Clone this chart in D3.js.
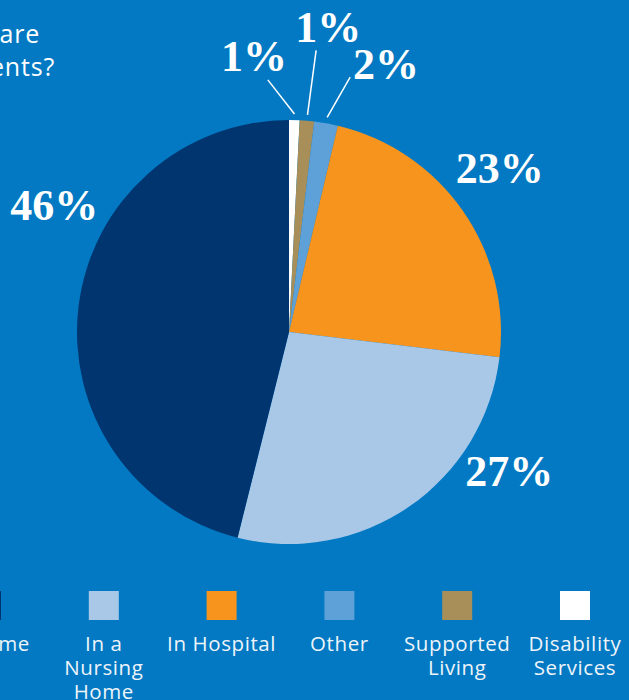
<!DOCTYPE html>
<html>
<head>
<meta charset="utf-8">
<script src="https://cdn.jsdelivr.net/npm/d3@7"></script>
<style>
  html, body { margin: 0; padding: 0; background: #0279c2; overflow: hidden; }
  svg { display: block; }
</style>
</head>
<body>
<svg id="chart" width="629" height="700"></svg>
<script>
// data, clockwise from 12 o'clock
const categories = ["Disability Services", "Supported Living", "Other", "In Hospital", "In a Nursing Home", "At Home"];
const values = [0.8, 1.1, 1.8, 23.2, 27.0, 46.1];
const valueLabels = ["1%", "1%", "2%", "23%", "27%", "46%"];
const colors = ["#ffffff", "#a88f5a", "#5ea0d8", "#f7941e", "#a9c8e8", "#00356f"];

// legend order, left to right
const legendOrder = ["At Home", "In a Nursing Home", "In Hospital", "Other", "Supported Living", "Disability Services"];
const legendLines = [["At Home"], ["In a", "Nursing", "Home"], ["In Hospital"], ["Other"], ["Supported", "Living"], ["Disability", "Services"]];

const titleLines = ["Where are", "the patients?"];

// label placement: polar (deg clockwise from top, radius) + leader end for small slices
const labelPos = [[-7.2, 279], [7.3, 308], [19.9, 285], [52.1, 267], [122.1, 260], [298.4, 267]];
const leaderEnd = [[-4.8, 253], [5.5, 283], [13.5, 262], null, null, null];

const width = 629, height = 700;
const cx = 289, cy = 332, radius = 212;

const svg = d3.select("#chart");

svg.append("rect")
    .attr("width", width)
    .attr("height", height)
    .attr("fill", "#0279c2");

// title (cut off at left edge like the source)
svg.append("g")
    .selectAll("text")
    .data(titleLines)
    .enter()
    .append("text")
    .attr("x", (d, i) => i === 0 ? 40 : 55)
    .attr("y", (d, i) => 43 + i * 33)
    .attr("text-anchor", "end")
    .attr("fill", "#ffffff")
    .style("font-family", "'Open Sans', sans-serif")
    .style("font-size", "25px")
    .style("letter-spacing", "0.8px")
    .text(d => d);

const pie = d3.pie().sort(null).value(d => d);
const arcs = pie(values);
const arc = d3.arc().innerRadius(0).outerRadius(radius);

const g = svg.append("g").attr("transform", `translate(${cx}, ${cy})`);

g.selectAll("path")
    .data(arcs)
    .enter()
    .append("path")
    .attr("d", arc)
    .attr("fill", (d, i) => colors[i]);

const polar = (deg, r) => {
    const a = deg * Math.PI / 180;
    return [Math.sin(a) * r, -Math.cos(a) * r];
};

// leader lines for thin slices
arcs.forEach((d, i) => {
    if (!leaderEnd[i]) return;
    const mid = (d.startAngle + d.endAngle) / 2 * 180 / Math.PI;
    const p0 = polar(mid, radius + 6);
    const p1 = polar(leaderEnd[i][0], leaderEnd[i][1]);
    g.append("line")
        .attr("x1", p0[0]).attr("y1", p0[1])
        .attr("x2", p1[0]).attr("y2", p1[1])
        .attr("stroke", "#ffffff")
        .attr("stroke-width", 1.5);
});

g.selectAll("text.pct")
    .data(arcs)
    .enter()
    .append("text")
    .attr("class", "pct")
    .attr("x", (d, i) => polar(labelPos[i][0], labelPos[i][1])[0])
    .attr("y", (d, i) => polar(labelPos[i][0], labelPos[i][1])[1])
    .attr("dy", "0.35em")
    .attr("text-anchor", "middle")
    .attr("fill", "#ffffff")
    .style("font-family", "'Liberation Serif', Georgia, serif")
    .style("font-weight", "bold")
    .style("font-size", "44px")
    .text((d, i) => valueLabels[i]);

// legend
const lx = d3.scalePoint().domain(legendOrder).range([-14, 575]);
const legend = svg.append("g");
const items = legend.selectAll("g")
    .data(legendOrder)
    .enter()
    .append("g")
    .attr("transform", d => `translate(${lx(d)}, 0)`);

items.append("rect")
    .attr("x", -15)
    .attr("y", 591)
    .attr("width", 30)
    .attr("height", 29)
    .attr("fill", d => colors[categories.indexOf(d)]);

items.append("text")
    .attr("text-anchor", "middle")
    .attr("fill", "#eef4fa")
    .style("font-family", "'Open Sans', sans-serif")
    .style("font-size", "20.5px")
    .style("letter-spacing", "0.6px")
    .selectAll("tspan")
    .data((d, i) => legendLines[i])
    .enter()
    .append("tspan")
    .attr("x", 0)
    .attr("y", (d, i) => 651 + i * 24)
    .text(d => d);
</script>
</body>
</html>
